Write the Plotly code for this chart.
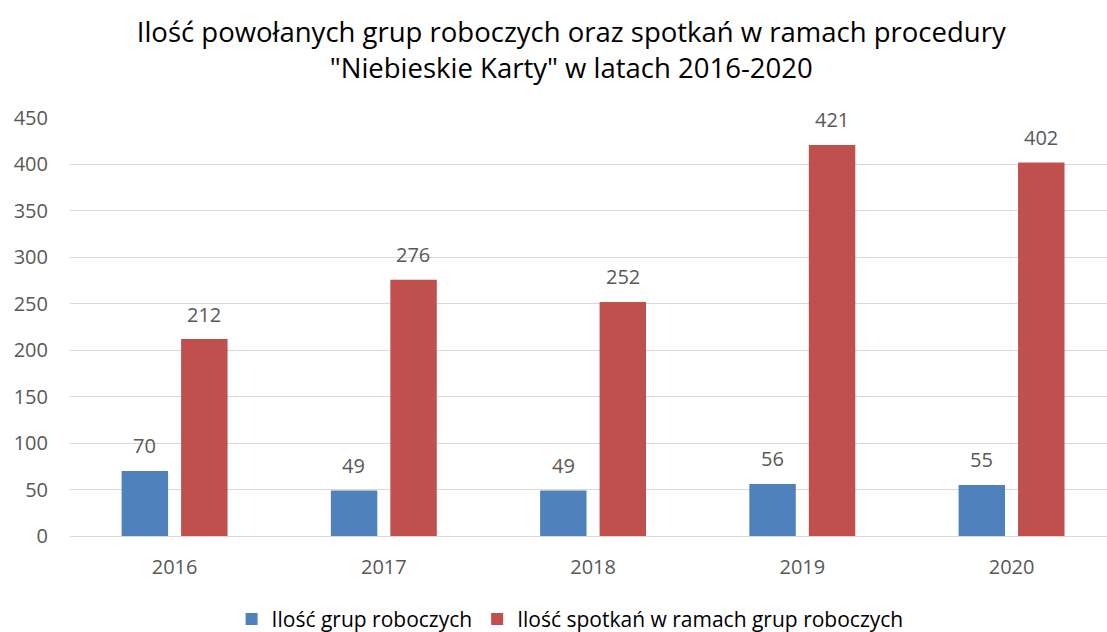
import plotly.graph_objects as go

years = ["2016", "2017", "2018", "2019", "2020"]
groups = [70, 49, 49, 56, 55]
meetings = [212, 276, 252, 421, 402]
series_names = ["Ilość grup roboczych", "Ilość spotkań w ramach grup roboczych"]
title_text = "Ilość powołanych grup roboczych oraz spotkań w ramach procedury<br>\"Niebieskie Karty\" w latach 2016-2020"
yticks = [0, 50, 100, 150, 200, 250, 300, 350, 400, 450]

BLUE = "#4F81BD"
RED = "#C0504D"
TXT = "#595959"
FONT = "Open Sans"

fig = go.Figure()
fig.add_trace(go.Bar(x=years, y=groups, name=series_names[0], marker_color=BLUE,
                     width=0.222, offset=-0.2533, marker_line_width=0))
fig.add_trace(go.Bar(x=years, y=meetings, name=series_names[1], marker_color=RED,
                     width=0.222, offset=0.031, marker_line_width=0))

annots = []
for i, v in enumerate(groups):
    annots.append(dict(x=i, y=v, xref="x", yref="y", text=str(v), showarrow=False,
                       xshift=-30, yshift=25,
                       font=dict(family=FONT, size=20, color=TXT)))
for i, v in enumerate(meetings):
    annots.append(dict(x=i, y=v, xref="x", yref="y", text=str(v), showarrow=False,
                       xshift=29.5, yshift=25,
                       font=dict(family=FONT, size=20, color=TXT)))

fig.update_layout(
    width=1107, height=632,
    barmode="overlay",
    annotations=annots,
    paper_bgcolor="white", plot_bgcolor="white",
    margin=dict(l=70, r=0, t=118, b=96),
    font=dict(family=FONT, color=TXT),
    title=dict(text=title_text, x=0.516, xref="container", xanchor="center",
               y=0.933, yref="container", yanchor="middle",
               font=dict(family=FONT, size=27.5, color="#000000")),
    xaxis=dict(type="category", range=[-0.5, 4.456], showgrid=False,
               showline=True, linecolor="#D9D9D9", linewidth=1,
               tickfont=dict(family=FONT, size=20, color=TXT), ticks="",
               ticklabelstandoff=13),
    yaxis=dict(range=[0, 450], tickvals=yticks, showgrid=True, gridcolor="#D9D9D9",
               gridwidth=1, zeroline=False, showline=False, ticks="",
               tickfont=dict(family=FONT, size=20, color=TXT), ticklabelstandoff=21),
    legend=dict(orientation="h", x=0.515, xref="container", xanchor="center",
                y=0.02, yref="container", yanchor="middle",
                font=dict(family=FONT, size=21, color="#000000"),
                itemwidth=30, tracegroupgap=0),
    showlegend=True,
)

fig.write_html("out.html", config={"displayModeBar": False},
               post_script="document.body.style.margin='0';")
